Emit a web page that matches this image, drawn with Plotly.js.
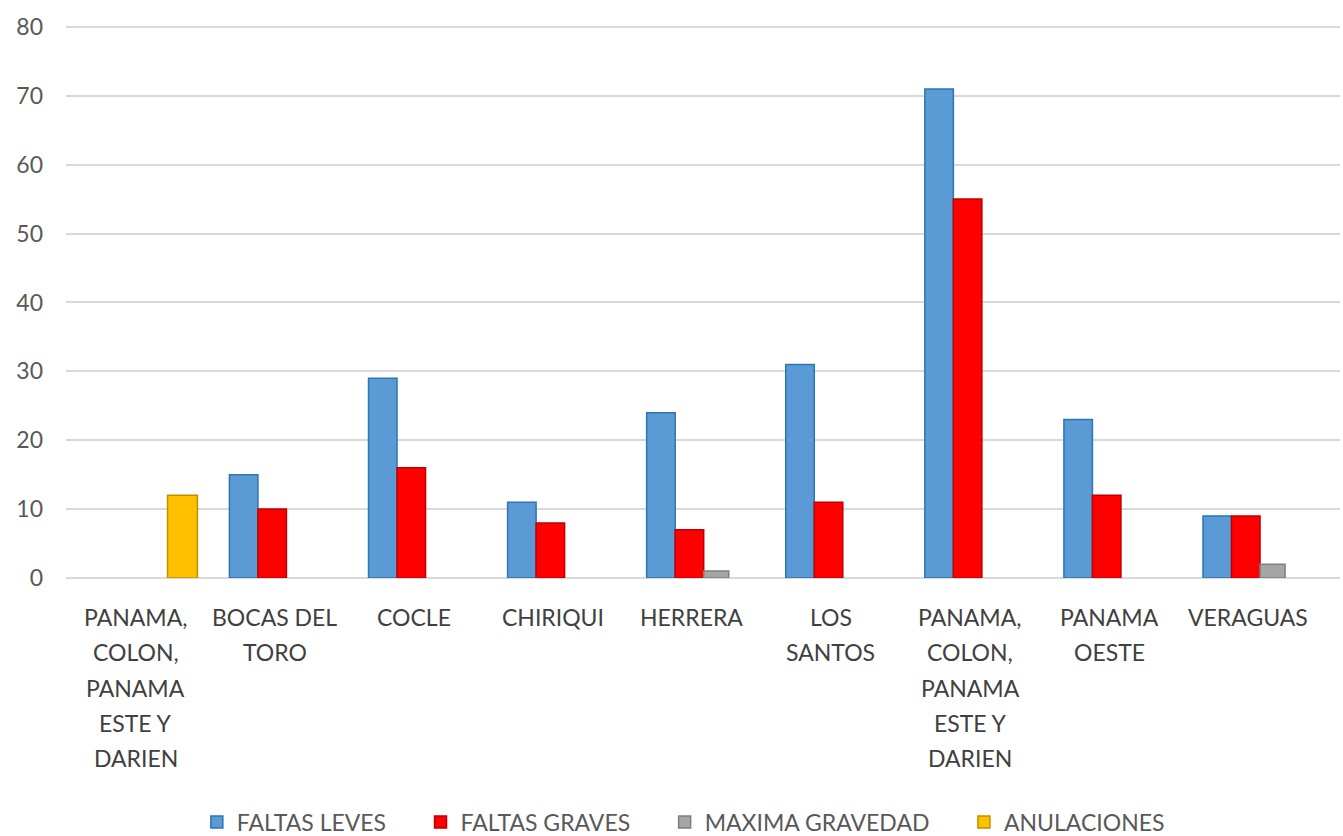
<!DOCTYPE html>
<html>
<head>
<meta charset="utf-8">
<script src="https://cdn.plot.ly/plotly-3.0.1.min.js"></script>
<style>html,body{margin:0;padding:0;background:#fff;}#chart{width:1343px;height:836px;}</style>
</head>
<body>
<div id="chart"></div>
<script>
var categories = [
  "PANAMA,<br>COLON,<br>PANAMA<br>ESTE Y<br>DARIEN",
  "BOCAS DEL<br>TORO",
  "COCLE",
  "CHIRIQUI",
  "HERRERA",
  "LOS<br>SANTOS",
  "PANAMA,<br>COLON,<br>PANAMA<br>ESTE Y<br>DARIEN",
  "PANAMA<br>OESTE",
  "VERAGUAS"
];
var seriesNames = ["FALTAS LEVES", "FALTAS GRAVES", "MAXIMA GRAVEDAD", "ANULACIONES"];
var faltasLeves    = [null, 15, 29, 11, 24, 31, 71, 23, 9];
var faltasGraves   = [null, 10, 16, 8, 7, 11, 55, 12, 9];
var maximaGravedad = [null, null, null, null, 1, null, null, null, 2];
var anulaciones    = [12, null, null, null, null, null, null, null, null];
var yTicks = [0, 10, 20, 30, 40, 50, 60, 70, 80];

var xIdx = categories.map(function(_, i){ return i; });
var pad = '\u00a0\u00a0\u00a0\u00a0\u00a0';

function barTrace(name, values, color, side, offset, width){
  return {
    type: 'bar', name: name + pad, x: xIdx, y: values,
    offset: offset, width: width,
    marker: {color: color, line: {color: side, width: 1.5}},
    hoverinfo: 'y+name'
  };
}

var traces = [
  barTrace(seriesNames[0], faltasLeves, '#5b9bd5', '#2e75b6', -0.325, 0.205),
  barTrace(seriesNames[1], faltasGraves, '#ff0000', '#c00000', -0.12, 0.205),
  barTrace(seriesNames[2], maximaGravedad, '#a5a5a5', '#7f7f7f', 0.085, 0.18),
  barTrace(seriesNames[3], anulaciones, '#ffc000', '#bf9000', 0.23, 0.215)
];

var annotations = [];
categories.forEach(function(label, i){
  label.split('<br>').forEach(function(line, k){
    annotations.push({
      x: i, xref: 'x', y: 0, yref: 'paper',
      yanchor: 'middle', xanchor: 'center',
      yshift: -39 - 35.3 * k,
      text: line, showarrow: false,
      font: {family: 'Lato, "Open Sans", sans-serif', size: 23, color: '#404040'}
    });
  });
});

var layout = {
  width: 1343, height: 836,
  margin: {l: 66, r: 3, t: 20, b: 258},
  paper_bgcolor: '#ffffff', plot_bgcolor: '#ffffff',
  barmode: 'overlay',
  showlegend: true,
  xaxis: {
    range: [-0.5, 8.66],
    tickvals: xIdx, ticktext: categories,
    showticklabels: false, showgrid: false, zeroline: false,
    showline: false, ticks: '', fixedrange: true
  },
  yaxis: {
    range: [0, 81], tickvals: yTicks,
    showgrid: true, gridcolor: '#d9d9d9', gridwidth: 2,
    zeroline: true, zerolinecolor: '#d9d9d9', zerolinewidth: 2,
    showline: false, ticks: '',
    ticklabelstandoff: 22,
    tickfont: {family: 'Lato, "Open Sans", sans-serif', size: 23, color: '#595959'}
  },
  legend: {
    orientation: 'h',
    xref: 'container', yref: 'container',
    x: 0.52, xanchor: 'center',
    y: 0.0167, yanchor: 'middle',
    font: {family: 'Lato, "Open Sans", sans-serif', size: 23, color: '#595959'},
    itemwidth: 30,
    traceorder: 'normal'
  },
  annotations: annotations
};

Plotly.newPlot('chart', traces, layout, {displayModeBar: false, staticPlot: true});
</script>
</body>
</html>
